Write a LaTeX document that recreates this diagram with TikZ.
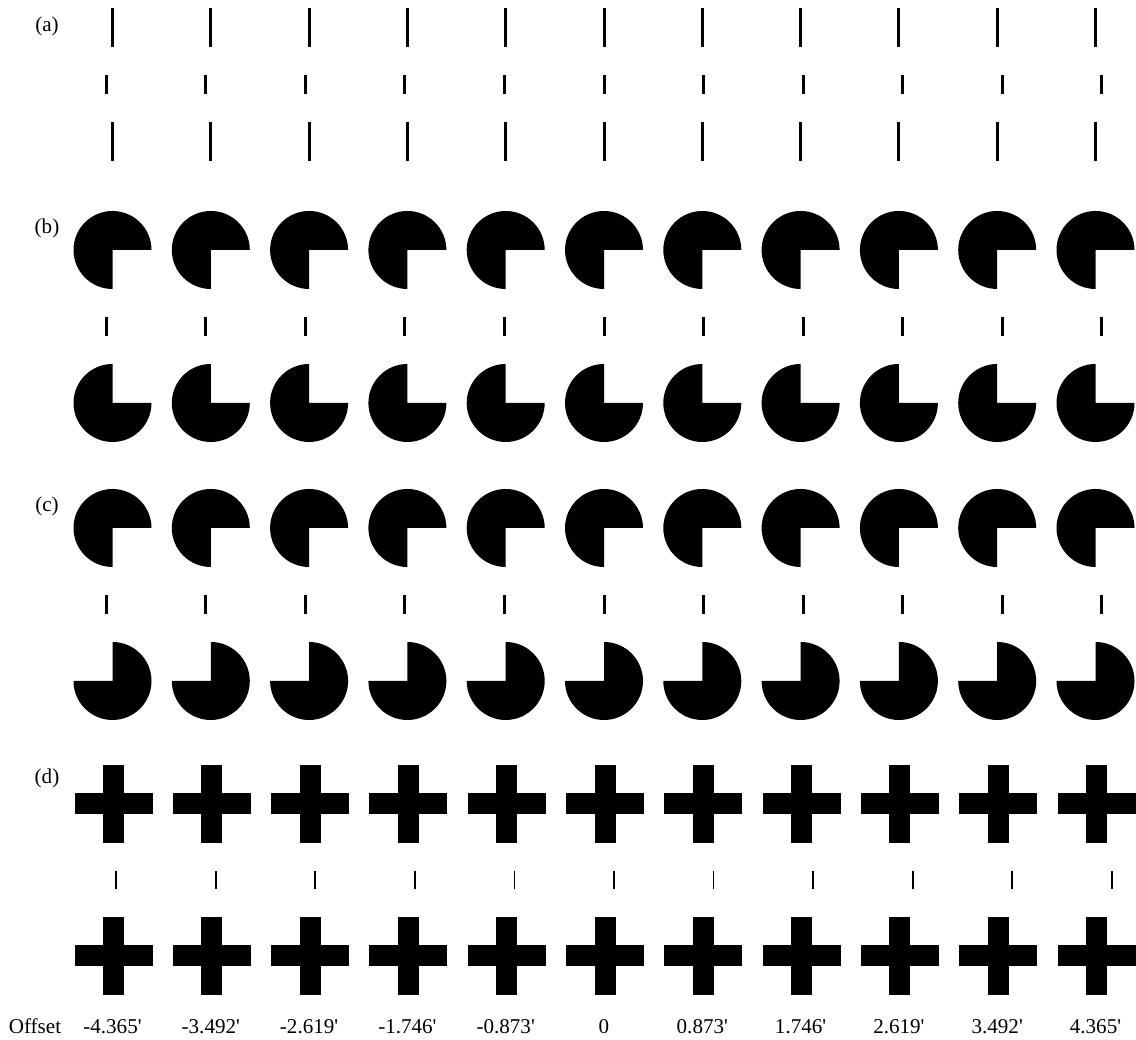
\documentclass[tikz,border=0pt]{standalone}
\usepackage{fontspec}
\setmainfont{Liberation Serif}[Ligatures=TeXOff]
\definecolor{inkblack}{RGB}{0,0,0}

\tikzset{
  lineseg/.style={line width=1.7pt, inkblack},
  thinseg/.style={line width=1.1pt, inkblack},
  rowlabel/.style={font=\fontsize{12}{14}\selectfont, inner sep=0pt},
}

% pacman inducer: center, start angle, end angle
\newcommand{\pacman}[3]{%
  \fill[inkblack] #1 -- ++(#2:39) arc[start angle=#2, end angle=#3, radius=39] -- cycle;}
% cross inducer: center
\newcommand{\plusshape}[1]{%
  \begin{scope}[shift={#1}]
    \fill[inkblack] (-39,-10.5) rectangle (39,10.5);
    \fill[inkblack] (-10.5,-39) rectangle (10.5,39);
  \end{scope}}

\begin{document}
\begin{tikzpicture}[x=0.02cm, y=0.02cm]
\useasboundingbox (0,0) rectangle (1136,1040);

% === Row labels ===
\node[rowlabel] (lbla) at (47,1014) {(a)};
\node[rowlabel] (lblb) at (47,812) {(b)};
\node[rowlabel] (lblc) at (47,534) {(c)};
\node[rowlabel] (lbld) at (47,262) {(d)};

% === Columns ===
\foreach \i in {0,...,10} {
  \pgfmathsetmacro{\cx}{112.5+98.3*\i}
  \pgfmathsetmacro{\dx}{1.4*(-4.365+0.873*\i)}

  % (a) lines
  \draw[lineseg] (\cx,1032) -- (\cx,993);
  \draw[lineseg] (\cx+\dx,965) -- (\cx+\dx,946);
  \draw[lineseg] (\cx,918) -- (\cx,879);

  % (b) pacmen
  \pacman{(\cx,790)}{0}{270}
  \draw[lineseg] (\cx+\dx,723) -- (\cx+\dx,704);
  \pacman{(\cx,637)}{90}{360}

  % (c) pacmen
  \pacman{(\cx,512)}{0}{270}
  \draw[lineseg] (\cx+\dx,445) -- (\cx+\dx,426);
  \pacman{(\cx,359)}{180}{450}

  % (d) crosses
  \plusshape{(\cx+1,236)}
  \draw[thinseg] (\cx+10+\dx,169) -- (\cx+10+\dx,151);
  \plusshape{(\cx+1,84)}
}

% === Offsets ===
\node[rowlabel, anchor=base] (offlbl) at (35,6) {Offset};
\foreach \i/\txt in {0/-4.365',1/-3.492',2/-2.619',3/-1.746',4/-0.873',5/0,
                     6/0.873',7/1.746',8/2.619',9/3.492',10/4.365'} {
  \node[rowlabel, anchor=base] (off\i) at (112.5+98.3*\i,6) {\txt};
}

\end{tikzpicture}
\end{document}
